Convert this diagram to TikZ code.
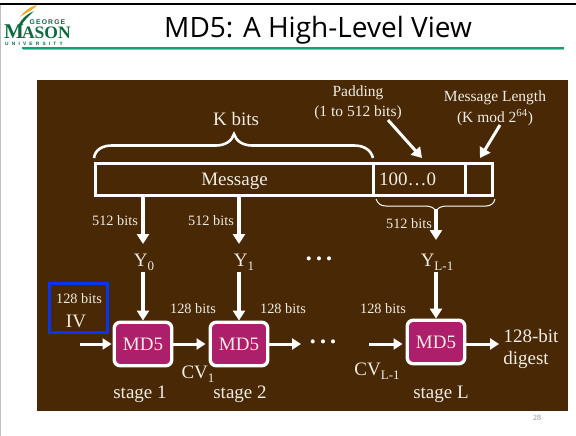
\documentclass[tikz,border=0pt]{standalone}
\usepackage{fontspec}
\setmainfont{Liberation Serif}
\newfontfamily\titlefont{Open Sans}
\newfontfamily\logosans{Liberation Sans}
\usetikzlibrary{arrows.meta}
\definecolor{bgbrown}{HTML}{482805}
\definecolor{ink}{HTML}{F1EDE4}
\definecolor{mdfill}{HTML}{AD1E6B}
\definecolor{ivblue}{HTML}{0A35F0}
\definecolor{gmugreen}{HTML}{0B6A3E}
\definecolor{rulegreen}{HTML}{10A078}
\definecolor{gmugold}{HTML}{EDA92A}
\newcommand{\fsz}[1]{\fontsize{#1}{#1}\selectfont}
\newcommand{\sbx}[1]{\raisebox{-4pt}{\fsz{13}#1}}
\tikzset{
  lab/.style={text=ink,inner sep=0pt,font=\fsz{14.3}},
  big/.style={text=ink,inner sep=0pt,font=\fsz{19}},
  wire/.style={draw=white,line width=3.2pt,-{Triangle[length=10pt,width=12pt]}},
  thick wire/.style={draw=white,line width=3pt,-{Triangle[length=9pt,width=11pt]}},
  md/.style={draw=white,line width=3.4pt,fill=mdfill,rounded corners=6pt,minimum width=57.5pt,minimum height=43.5pt,inner sep=0pt,text=ink,font=\fsz{19}},
  cell/.style={draw=white,line width=3pt,minimum height=32pt,inner sep=0pt,text=ink,font=\fsz{19}},
  pointer/.style={draw=white,line width=3pt,-{Triangle[length=10pt,width=12pt]}},
}
\begin{document}
\begin{tikzpicture}[x=1pt,y=-1pt]
\useasboundingbox (0,0) rectangle (576,436);
\fill[white] (0,0) rectangle (576,436);
\fill[black] (0,3) rectangle (576,5);
\fill[black!25] (0,5) rectangle (1,436);
% header
\fill[black!30] (23,49) rectangle (564,50);
\fill[rulegreen] (22,47.5) rectangle (564,49.2);
\node[inner sep=0pt,font=\titlefont\fsz{28}] (title) at (318,30) {MD5: A High-Level View};
% logo
\fill[gmugold] (20,17) .. controls (25,10) and (30,7) .. (37,5) .. controls (32,11) and (27,12) .. (20,17);
\fill[gmugreen] (18,26) .. controls (22,18) and (27,14) .. (34,11) .. controls (29,16) and (24,20) .. (21,26) -- cycle;
\node[inner sep=0pt,text=gmugreen,font=\logosans\bfseries\fsz{6.8},anchor=west] (lgeorge) at (29.5,22.3) {G\,E\,O\,R\,G\,E};
\node[inner sep=0pt,text=gmugreen,font=\bfseries\fsz{21},anchor=base west,text depth=0pt] (lmason) at (4,38.5) {M\kern-2pt\fsz{17.5}ASON};
\node[inner sep=0pt,text=gmugreen,font=\logosans\bfseries\fsz{4.8},anchor=west] (luniv) at (5,43.5) {U\,\,\,\,N\,\,\,\,I\,\,\,\,V\,\,\,\,E\,\,\,\,R\,\,\,\,S\,\,\,\,I\,\,\,\,T\,\,\,\,Y};
% panel
\fill[bgbrown] (37,80) rectangle (568,411);
\node[inner sep=0pt,text=black!45,font=\fsz{8}] (pagenum) at (537,418) {28};
% message bar
\node[cell,minimum width=278pt] (msg) at (234.5,179) {\raisebox{-6pt}[0pt][0pt]{Message}};
\node[cell,minimum width=92pt] (pad) at (419,179) {\hspace*{-23pt}\raisebox{-6pt}[0pt][0pt]{100…0}};
\node[cell,minimum width=27pt] (len) at (478.5,179) {};
% braces
\draw[white,line width=2.6pt] (94,158) .. controls (95,150) and (102,145.5) .. (112,145.5) -- (216,145.5) .. controls (225,145.5) and (232,141) .. (234,134) .. controls (236,141) and (243,145.5) .. (252,145.5) -- (354,145.5) .. controls (364,145.5) and (371,150) .. (373,158);
\draw[white,line width=1pt] (376,199) .. controls (378,204) and (381,206) .. (386,206) -- (425,206) .. controls (431,206) and (435,208) .. (436,212) .. controls (437,208) and (441,206) .. (447,206) -- (486,206) .. controls (490,206) and (494,204) .. (495,199);
\coordinate (b3) at (436,209);
% upper labels
\node[big] (kbits) at (236,119) {K bits};
\node[lab,align=center,font=\fsz{15.5}] (padlab) at (358,103) {Padding\\[5pt](1 to 512 bits)};
\node[lab,align=center,font=\fsz{15.5}] (lenlab) at (495,108) {Message Length\\[4pt](K mod 2\textsuperscript{64})};
\coordinate (padfrom) at (388,120);
\coordinate (padto) at (422,158);
\coordinate (lenfrom) at (500,125);
\coordinate (lento) at (480,158);
\draw[pointer] (padfrom) -- (padto);
\draw[pointer] (lenfrom) -- (lento);
% blocks
\node[md] (md1) at (143,344) {MD5};
\node[md] (md2) at (239,344) {MD5};
\node[md] (md3) at (436,342) {MD5};
\node[big] (y0) at (144,262) {Y\sbx{0}};
\node[big] (y1) at (244,262) {Y\sbx{1}};
\node[big] (y2) at (437,262) {Y\sbx{L-1}};
\node[lab] (s1) at (115,221) {512 bits};
\node[lab] (s2) at (211,221) {512 bits};
\node[lab] (s3) at (409,224) {512 bits};
% vertical wires
\coordinate (m1) at (143,195);
\coordinate (m2) at (239,195);
\coordinate (t1) at (143,244);
\coordinate (t2) at (239,244);
\coordinate (t3) at (436,240);
\coordinate (u1) at (143,272);
\coordinate (u2) at (239,272);
\coordinate (u3) at (436,272);
\draw[wire] (m1) -- (t1);
\draw[wire] (m2) -- (t2);
\draw[wire] (b3) -- (t3);
\draw[wire] (u1) -- (md1.north);
\draw[wire] (u2) -- (md2.north);
\draw[wire] (u3) -- (md3.north);
% horizontal wires
\coordinate (in1) at (80,344);
\coordinate (out2) at (301,344);
\coordinate (in3) at (369,344);
\coordinate (out3) at (499,344);
\draw[thick wire,shorten >=1pt] (in1) -- (md1.west |- in1);
\draw[thick wire,shorten >=3pt] (md1.east) -- (md2.west);
\draw[thick wire] (md2.east) -- (out2);
\draw[thick wire,shorten >=3pt] (in3) -- (md3.west |- in3);
\draw[thick wire] (md3.east |- out3) -- (out3);
% IV
\node[draw=ivblue,line width=3pt,minimum width=58.5pt,minimum height=48.5pt,inner sep=0pt] (iv) at (78.5,308) {};
\node[lab] (ivbits) at (79,299) {128 bits};
\node[big] (ivtxt) at (76,321) {IV};
% stage labels
\node[lab] (b1) at (193,309) {128 bits};
\node[lab] (b2) at (283,309) {128 bits};
\node[lab] (b3lab) at (383,309) {128 bits};
\node[big] (cv1) at (198,374) {CV\sbx{1}};
\node[big] (cv3) at (377,371) {CV\sbx{L-1}};
\node[big] (st1) at (140,394) {stage 1};
\node[big] (st2) at (240,394) {stage 2};
\node[big] (st3) at (441,394) {stage L};
\node[big] (dig1) at (531,336) {128-bit};
\node[big] (dig2) at (526,360) {digest};
% dots
\node[inner sep=0pt,text=white,font=\fsz{17}] (dots1) at (319,261) {• • •};
\node[inner sep=0pt,text=white,font=\fsz{17}] (dots2) at (323,344) {• • •};
\end{tikzpicture}
\end{document}
